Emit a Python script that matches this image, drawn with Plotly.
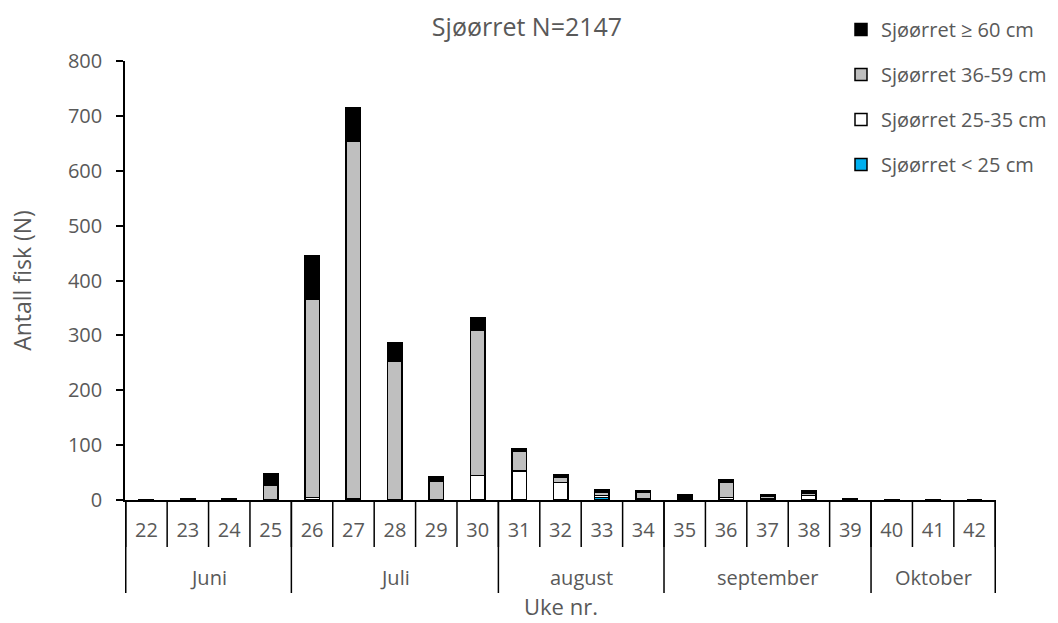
import plotly.graph_objects as go

weeks = ["22","23","24","25","26","27","28","29","30","31","32","33","34","35","36","37","38","39","40","41","42"]
months = ["Juni"]*4 + ["Juli"]*5 + ["august"]*4 + ["september"]*5 + ["Oktober"]*3

lt25   = [0,0,0,0,0,0,0,0,0,0,0,5,0,0,0,0,0,0,0,0,0]
s25_35 = [0,0,0,0,5,2,1,0,45,53,32,3,2,2,5,3,8,0,0,0,0]
s36_59 = [0,1,1,26,360,651,252,35,265,36,10,6,12,3,28,3,5,1,0,0,0]
ge60   = [1,2,2,21,80,62,33,8,23,4,4,4,3,4,3,3,3,2,1,1,0]

series = [
    ("Sjøørret < 25 cm", lt25, "#00B0F0"),
    ("Sjøørret 25-35 cm", s25_35, "#FFFFFF"),
    ("Sjøørret 36-59 cm", s36_59, "#BFBFBF"),
    ("Sjøørret ≥ 60 cm", ge60, "#000000"),
]

font = "Open Sans"
grey = "#595959"
L, R, T, B = 125, 62, 61, 123
W, H = 1058, 623
PH = H - T - B
PW = W - L - R

fig = go.Figure()
for i, (name, vals, col) in enumerate(series):
    fig.add_trace(go.Bar(
        x=weeks, y=vals, name=name,
        marker=dict(color=col, line=dict(color="#000000", width=1.5)),
        legendgroup=str(i), legendrank=10 - i,
    ))

# week boundaries and month group separators / labels
line_style = dict(color="#000000", width=1.5)
shapes = []
for i in range(len(weeks) + 1):
    shapes.append(dict(type="line", xref="x", yref="paper", x0=i - 0.5, x1=i - 0.5,
                       y0=0, y1=-47 / PH, line=line_style))
bounds = [-0.5]
for i in range(1, len(months)):
    if months[i] != months[i - 1]:
        bounds.append(i - 0.5)
bounds.append(len(months) - 0.5)
for b in bounds:
    shapes.append(dict(type="line", xref="x", yref="paper", x0=b, x1=b,
                       y0=0, y1=-93 / PH, line=line_style))
annotations = []
for j in range(len(bounds) - 1):
    mid = (bounds[j] + bounds[j + 1]) / 2
    annotations.append(dict(text=months[int(bounds[j] + 0.5)], xref="x", yref="paper",
                            x=mid, y=-77 / PH, xanchor="center", yanchor="middle",
                            showarrow=False, font=dict(family=font, size=20, color=grey)))
annotations.append(dict(text="Uke nr.", xref="paper", yref="paper", x=0.5, y=-106 / PH,
                        xanchor="center", yanchor="middle", showarrow=False,
                        font=dict(family=font, size=22, color=grey)))

fig.update_layout(
    barmode="stack",
    bargap=0.65,
    width=W, height=H,
    paper_bgcolor="white", plot_bgcolor="white",
    margin=dict(l=L, r=R, t=T, b=B, autoexpand=False),
    title=dict(text="Sjøørret N=2147", x=527 / W,
               xanchor="center", y=1 - 27 / H, yanchor="middle",
               font=dict(family=font, size=25, color=grey)),
    font=dict(family=font, size=20, color=grey),
    legend=dict(x=(841 - L) / PW, y=1 + 51 / PH, xanchor="left", yanchor="top",
                traceorder="grouped", tracegroupgap=16,
                font=dict(family=font, size=20, color=grey),
                bgcolor="rgba(0,0,0,0)"),
    showlegend=True,
    shapes=shapes,
    annotations=annotations,
)
fig.update_yaxes(range=[0, 800], dtick=100, showgrid=False, showline=True,
                 linecolor="#000000", linewidth=1.5, ticks="outside", ticklen=7,
                 tickcolor="#000000", tickwidth=1.5, zeroline=False,
                 ticklabelstandoff=10,
                 title=dict(text="Antall fisk (N)", standoff=30,
                            font=dict(family=font, size=23, color=grey)),
                 tickfont=dict(family=font, size=20, color=grey))
fig.update_xaxes(type="category", showline=True, linecolor="#000000", linewidth=1.5,
                 ticks="", ticklabelstandoff=11, showgrid=False,
                 tickfont=dict(family=font, size=20, color=grey))

fig.write_html("out.html")
